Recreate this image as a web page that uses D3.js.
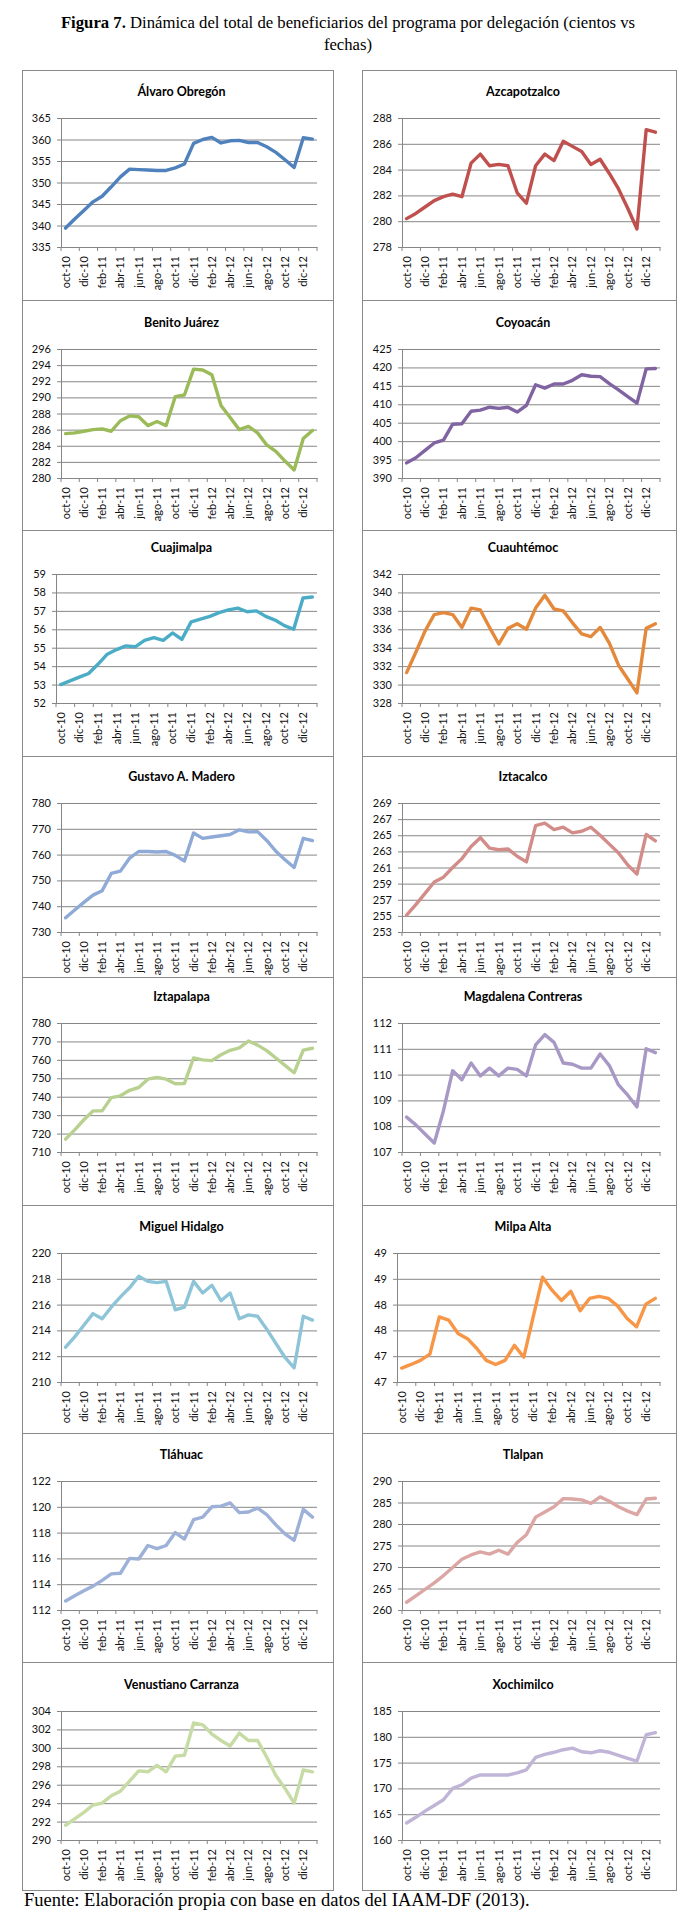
<!DOCTYPE html>
<html>
<head>
<meta charset="utf-8">
<script src="https://cdn.jsdelivr.net/npm/d3@7"></script>
<style>
  body { margin: 0; background: #fff; }
</style>
</head>
<body>
<div id="chart"></div>
<script>
// meses (oct-10 .. ene-13), una etiqueta cada dos
months = ["oct-10","nov-10","dic-10","ene-11","feb-11","mar-11","abr-11","may-11","jun-11","jul-11","ago-11","sep-11",
  "oct-11","nov-11","dic-11","ene-12","feb-12","mar-12","abr-12","may-12","jun-12","jul-12","ago-12","sep-12",
  "oct-12","nov-12","dic-12","ene-13"]

names = ["Álvaro Obregón","Azcapotzalco","Benito Juárez","Coyoacán","Cuajimalpa","Cuauhtémoc","Gustavo A. Madero","Iztacalco",
  "Iztapalapa","Magdalena Contreras","Miguel Hidalgo","Milpa Alta","Tláhuac","Tlalpan","Venustiano Carranza","Xochimilco"]

// valores (cientos de beneficiarios)
alvaroObregon = [339.4,341.5,343.5,345.5,346.8,349.0,351.3,353.1,353.0,352.9,352.8,352.8,353.4,354.3,359.1,360.0,360.5,359.2,359.7,359.8,359.3,359.3,358.3,357.0,355.3,353.5,360.4,360.1]
azcapotzalco = [280.2,280.6,281.1,281.6,281.9,282.1,281.9,284.5,285.2,284.3,284.4,284.3,282.2,281.4,284.3,285.2,284.7,286.2,285.8,285.4,284.4,284.8,283.7,282.5,281.0,279.4,287.1,286.9]
benitoJuarez = [285.5,285.6,285.8,286.0,286.1,285.8,287.1,287.7,287.6,286.5,287.0,286.5,290.1,290.3,293.5,293.4,292.8,289.0,287.5,286.0,286.4,285.6,284.1,283.3,282.1,281.0,284.9,285.9]
coyoacan = [394.1,395.5,397.5,399.5,400.3,404.6,404.7,408.1,408.4,409.2,408.9,409.2,407.9,409.7,415.3,414.4,415.5,415.5,416.5,418.0,417.6,417.5,415.6,413.9,412.1,410.3,419.6,419.7]
cuajimalpa = [53.0,53.2,53.4,53.6,54.1,54.65,54.9,55.1,55.05,55.4,55.55,55.4,55.8,55.45,56.4,56.55,56.7,56.9,57.05,57.15,56.95,57.0,56.7,56.5,56.2,56.0,57.7,57.75]
cuauhtemoc = [331.3,333.5,335.8,337.6,337.8,337.6,336.2,338.3,338.1,336.2,334.4,336.1,336.6,336.0,338.3,339.7,338.2,338.0,336.7,335.5,335.2,336.2,334.5,332.1,330.6,329.1,336.1,336.6]
gustavoMadero = [735.5,738.5,741.5,744.3,746.0,752.7,753.6,758.6,761.2,761.2,761.0,761.2,759.7,757.5,768.4,766.3,766.8,767.3,767.8,769.6,768.8,768.9,765.5,761.3,758.0,755.0,766.3,765.4]
iztacalco = [255.1,256.4,257.8,259.2,259.8,261.0,262.1,263.6,264.7,263.4,263.2,263.3,262.4,261.7,266.2,266.5,265.7,266.0,265.3,265.5,266.0,265.0,263.9,262.8,261.3,260.2,265.1,264.3]
iztapalapa = [717.0,722.0,727.5,732.3,732.3,739.5,740.5,743.5,745.0,749.5,750.5,749.5,747.0,747.2,761.0,760.0,759.6,762.8,765.2,766.5,770.2,768.0,765.0,761.0,757.0,753.0,765.3,766.3]
magdalenaContreras = [108.35,108.05,107.7,107.35,108.6,110.15,109.8,110.45,109.95,110.25,109.95,110.25,110.2,109.95,111.15,111.55,111.25,110.45,110.4,110.25,110.25,110.8,110.35,109.6,109.2,108.75,111.0,110.85]
miguelHidalgo = [212.7,213.5,214.4,215.3,214.9,215.8,216.6,217.3,218.2,217.8,217.7,217.8,215.6,215.8,217.8,216.9,217.5,216.3,216.9,214.9,215.2,215.1,214.1,213.0,211.9,211.1,215.1,214.8]
milpaAlta = [46.77,46.84,46.92,47.04,47.76,47.70,47.44,47.34,47.15,46.92,46.84,46.92,47.21,46.98,47.76,48.53,48.28,48.08,48.26,47.88,48.12,48.16,48.12,47.97,47.73,47.57,48.01,48.12]
tlahuac = [112.7,113.1,113.5,113.85,114.3,114.8,114.85,116.0,115.95,117.0,116.75,117.0,118.0,117.5,119.0,119.2,120.0,120.05,120.3,119.55,119.6,119.9,119.4,118.6,117.9,117.4,119.8,119.2]
tlalpan = [261.8,263.3,264.8,266.3,268.0,269.9,271.8,272.8,273.5,273.0,273.9,273.0,275.7,277.5,281.6,282.8,284.0,285.9,285.8,285.6,284.8,286.3,285.3,284.0,283.0,282.2,285.8,286.0]
venustianoCarranza = [291.6,292.3,293.0,293.8,294.0,294.8,295.3,296.4,297.5,297.4,298.1,297.4,299.1,299.2,302.7,302.5,301.5,300.8,300.2,301.6,300.8,300.8,299.0,297.0,295.6,294.0,297.6,297.4]
xochimilco = [163.3,164.4,165.6,166.7,167.8,170.0,170.7,172.0,172.6,172.6,172.6,172.6,173.0,173.6,176.0,176.6,177.0,177.5,177.8,177.1,176.9,177.3,177.0,176.4,175.8,175.3,180.4,180.8]

series = [alvaroObregon, azcapotzalco, benitoJuarez, coyoacan, cuajimalpa, cuauhtemoc, gustavoMadero, iztacalco,
  iztapalapa, magdalenaContreras, miguelHidalgo, milpaAlta, tlahuac, tlalpan, venustianoCarranza, xochimilco]

// marcas del eje vertical de cada panel
yTicks = [
  [335,340,345,350,355,360,365],
  [278,280,282,284,286,288],
  [280,282,284,286,288,290,292,294,296],
  [390,395,400,405,410,415,420,425],
  [52,53,54,55,56,57,58,59],
  [328,330,332,334,336,338,340,342],
  [730,740,750,760,770,780],
  [253,255,257,259,261,263,265,267,269],
  [710,720,730,740,750,760,770,780],
  [107,108,109,110,111,112],
  [210,212,214,216,218,220],
  [46.5,47,47.5,48,48.5,49],
  [112,114,116,118,120,122],
  [260,265,270,275,280,285,290],
  [290,292,294,296,298,300,302,304],
  [160,165,170,175,180,185]
]

colors = ["#4f81bd","#c0504d","#9bbb59","#8064a2","#4bacc6","#e4893b","#8faad6","#d28c89",
  "#b9d190","#a898c5","#8ec4d8","#f79646","#9db1d8","#dba6a3","#c7dba5","#c0b4d7"]

// posición de filas (px)
panelTops = [70, 300, 530, 756, 977, 1205, 1433, 1662]
plotTops = [118, 349, 574, 803, 1023, 1253, 1481, 1711]
panelBottom = 1890
plotH = 129

const W = 696, H = 1923
const svg = d3.select("#chart").append("svg")
  .attr("width", W).attr("height", H)
  .style("font-family", "Lato, 'Open Sans', sans-serif")

// título
const title = svg.append("text")
  .attr("x", W / 2).attr("y", 28)
  .attr("text-anchor", "middle")
  .style("font-family", "'Liberation Serif', 'Times New Roman', serif")
  .style("font-size", "16.7px")
title.append("tspan").style("font-weight", "bold").text("Figura 7.")
title.append("tspan").text(" Dinámica del total de beneficiarios del programa por delegación (cientos vs")
svg.append("text")
  .attr("x", W / 2).attr("y", 50)
  .attr("text-anchor", "middle")
  .style("font-family", "'Liberation Serif', 'Times New Roman', serif")
  .style("font-size", "16.7px")
  .text("fechas)")

series.forEach((vals, i) => {
  const col = i % 2, row = Math.floor(i / 2)
  const px = col ? 362 : 22, pw = col ? 314 : 311
  const py = panelTops[row]
  const ph = (row < panelTops.length - 1 ? panelTops[row + 1] : panelBottom) - py
  const ticks = yTicks[i]
  const digits = String(Math.round(ticks[ticks.length - 1])).length
  const left = px + (digits >= 3 ? 39 : 34) + col
  const right = px + pw - 16
  const top = plotTops[row], bottom = top + plotH

  const g = svg.append("g")

  g.append("rect")
    .attr("x", px + 0.5).attr("y", py + 0.5)
    .attr("width", pw).attr("height", ph)
    .attr("fill", "#fff").attr("stroke", "#8a8a8a").attr("stroke-width", 1)

  g.append("text")
    .attr("x", (px + px + pw) / 2 + 4).attr("y", top - 26)
    .attr("dy", "0.35em")
    .attr("text-anchor", "middle")
    .style("font-weight", "bold").style("font-size", "12.5px")
    .text(names[i])

  const x = d3.scaleBand().domain(months).range([left, right])
  const y = d3.scaleLinear().domain([ticks[0], ticks[ticks.length - 1]]).range([bottom, top])
  const fmt = d => String(Math.round(d))

  // líneas de cuadrícula
  g.append("g")
    .attr("transform", `translate(${left},0)`)
    .call(d3.axisLeft(y).tickValues(ticks).tickSizeInner(-(right - left)).tickSizeOuter(0).tickFormat(""))
    .call(a => a.select(".domain").remove())
    .call(a => a.selectAll("line").attr("stroke", "#868686"))

  // eje vertical
  g.append("g")
    .attr("transform", `translate(${left},0)`)
    .call(d3.axisLeft(y).tickValues(ticks).tickSizeInner(4).tickSizeOuter(0).tickPadding(6).tickFormat(fmt))
    .call(a => a.select(".domain").attr("stroke", "#868686"))
    .call(a => a.selectAll("line").attr("stroke", "#868686"))
    .call(a => a.selectAll("text").style("font-size", "11px").attr("fill", "#111")
      .style("font-family", "Lato, sans-serif"))

  // eje horizontal: etiquetas cada dos meses
  g.append("g")
    .attr("transform", `translate(0,${bottom})`)
    .call(d3.axisBottom(x).tickValues(months.filter((d, k) => k % 2 === 0)).tickSize(0).tickFormat(d => d))
    .call(a => a.select(".domain").attr("stroke", "#868686"))
    .call(a => a.selectAll("text")
      .attr("transform", "rotate(-90)")
      .attr("x", -9).attr("y", 0).attr("dy", "0.36em")
      .attr("text-anchor", "end")
      .attr("fill", "#111")
      .style("font-size", "11px")
      .style("font-family", "Lato, sans-serif"))

  // marcas del eje horizontal en los límites de cada par de meses
  const bounds = months.filter((d, k) => k % 2 === 0).map(d => x(d)).concat([right])
  g.append("g").selectAll("line").data(bounds).join("line")
    .attr("x1", d => d).attr("x2", d => d)
    .attr("y1", bottom).attr("y2", bottom + 4)
    .attr("stroke", "#868686")

  const line = d3.line()
    .x((d, k) => x(months[k]) + x.bandwidth() / 2)
    .y(d => y(d))

  g.append("path")
    .datum(vals)
    .attr("d", line)
    .attr("fill", "none")
    .attr("stroke", colors[i])
    .attr("stroke-width", 3.4)
    .attr("stroke-linejoin", "round")
    .attr("stroke-linecap", "round")
})

svg.append("text")
  .attr("x", 24).attr("y", 1906)
  .style("font-family", "'Liberation Serif', 'Times New Roman', serif")
  .style("font-size", "18.5px")
  .text("Fuente: Elaboración propia con base en datos del IAAM-DF (2013).")
</script>
</body>
</html>
